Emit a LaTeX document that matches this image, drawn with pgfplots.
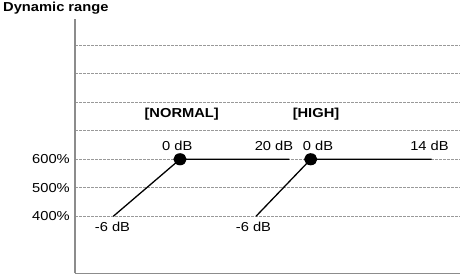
\documentclass[border=0pt]{standalone}
\usepackage{fontspec}
\setmainfont{Liberation Sans}
\newfontfamily\wf[FakeStretch=1.13]{Liberation Sans}
\usepackage{pgfplots}
\pgfplotsset{compat=1.18}
\begin{document}
\begin{tikzpicture}[x=1pt,y=1pt]
\useasboundingbox (0,0) rectangle (460,274);
\fill[white] (0,0) rectangle (460,274);
\begin{axis}[
  at={(75pt,0.7pt)}, anchor=south west,
  scale only axis, width=385pt, height=254.3pt,
  xmin=75, xmax=460, ymin=200, ymax=1092,
  axis x line*=bottom, axis y line*=left,
  axis line style={draw=gray!90, line width=1.4pt, -},
  xtick=\empty,
  ytick={400,500,600,700,800,900,1000},
  yticklabels={400\%,500\%,600\%,,,,},
  major tick length=0pt,
  ymajorgrids,
  major grid style={gray!80, line width=0.6pt, dash pattern=on 2.5pt off 1.5pt},
  /pgf/number format/assume math mode=true,
  yticklabel style={font=\wf\fontsize{13pt}{15pt}\selectfont, inner sep=0pt, xshift=-5pt},
  clip=false,
]
\addplot[black, line width=1.3pt, mark=*, mark size=5.4pt, mark options={xscale=1.1}, mark indices={2}] coordinates {(113.3,400) (180,600) (289.3,600)};
\addplot[black, line width=1.3pt, mark=*, mark size=5.4pt, mark options={xscale=1.1}, mark indices={2}] coordinates {(256,400) (310.7,600) (431.7,600)};
\begin{scope}[every node/.style={font=\wf\fontsize{13pt}{15pt}\selectfont, inner sep=0pt}]
\node[font=\wf\fontsize{13pt}{15pt}\selectfont\bfseries] at (axis cs:181.7,759) {[NORMAL]};
\node[font=\wf\fontsize{13pt}{15pt}\selectfont\bfseries] at (axis cs:316,759) {[HIGH]};
\node at (axis cs:177.3,648) {0 dB};
\node at (axis cs:274,648) {20 dB};
\node at (axis cs:318,648) {0 dB};
\node at (axis cs:429.5,648) {14 dB};
\node at (axis cs:112.5,362) {-6 dB};
\node at (axis cs:253.5,362) {-6 dB};
\end{scope}
\end{axis}
\node[anchor=base west, inner sep=0pt, font=\wf\fontsize{13pt}{15pt}\selectfont\bfseries] at (3,262) {Dynamic range};
\end{tikzpicture}
\end{document}
